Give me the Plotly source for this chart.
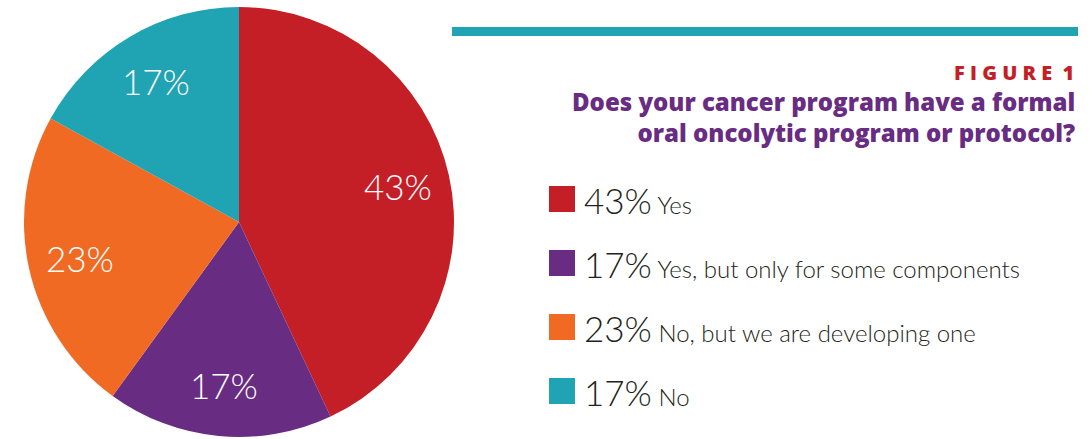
import math
import plotly.graph_objects as go

categories = ["Yes", "Yes, but only for some components", "No, but we are developing one", "No"]
values = [43, 17, 23, 17]
colors = ["#C41F26", "#682C82", "#F06A23", "#20A3B3"]
title_lines = ["Does your cancer program have a formal", "oral oncolytic program or protocol?"]

W, H = 1091, 439
PIE_L, PIE_R, PIE_T, PIE_B = 24, 454, 7, 437
fig = go.Figure()
fig.add_trace(go.Pie(
    labels=categories, values=values, sort=False, direction="clockwise", rotation=0,
    marker=dict(colors=colors, line=dict(width=0)),
    textinfo="none",
    domain=dict(x=[PIE_L / W, PIE_R / W], y=[1 - PIE_B / H, 1 - PIE_T / H]),
    showlegend=False, hoverinfo="label+percent",
))

shapes = [dict(type="rect", xref="paper", yref="paper", x0=452 / W, x1=1078 / W,
               y0=1 - 36 / H, y1=1 - 27 / H, fillcolor="#20A3B3", line=dict(width=0))]
annotations = [
    dict(text="F I G U R E  1", x=1076 / W, y=1 - 72 / H,
         xref="paper", yref="paper", xanchor="right", yanchor="middle", showarrow=False,
         font=dict(family="Open Sans", size=20, color="#C41F26", weight=800)),
    dict(text="<br>".join(title_lines), x=1077 / W, y=1 - 117 / H, align="right",
         xref="paper", yref="paper", xanchor="right", yanchor="middle", showarrow=False,
         font=dict(family="Open Sans", size=24, color="#682C82", weight=800)),
]

# pie value labels, placed along each slice's mid-angle
cx, cy = (PIE_L + PIE_R) / 2, (PIE_T + PIE_B) / 2
R = (PIE_R - PIE_L) / 2
total = sum(values)
cum = 0
for val in values:
    mid = (cum + val / 2) / total * 2 * math.pi
    cum += val
    x = cx + 0.76 * R * math.sin(mid)
    y = cy - 0.76 * R * math.cos(mid)
    annotations.append(dict(text=f"{val}%", x=x / W, y=1 - y / H, xref="paper", yref="paper",
                            xanchor="center", yanchor="middle", showarrow=False,
                            font=dict(family="Lato", size=35, color="white", weight=300)))

for i, (cat, val, col) in enumerate(zip(categories, values, colors)):
    yc = 199 + 64 * i
    shapes.append(dict(type="rect", xref="paper", yref="paper", x0=549 / W, x1=575 / W,
                       y0=1 - (yc + 13) / H, y1=1 - (yc - 13) / H, fillcolor=col, line=dict(width=0)))
    annotations.append(dict(
        text=f"<span style='font-size:35px'>{val}%</span> {cat}",
        x=582 / W, y=1 - (yc + 1) / H, xref="paper", yref="paper", xanchor="left", yanchor="middle",
        showarrow=False, font=dict(family="Lato", size=24, color="#231F20", weight=300)))

fig.update_layout(width=W, height=H, margin=dict(l=0, r=0, t=0, b=0),
                  paper_bgcolor="white", plot_bgcolor="white",
                  shapes=shapes, annotations=annotations)
fig.write_html("out.html", config={"displayModeBar": False},
               post_script="document.body.style.margin='0';document.body.style.overflow='hidden';")
